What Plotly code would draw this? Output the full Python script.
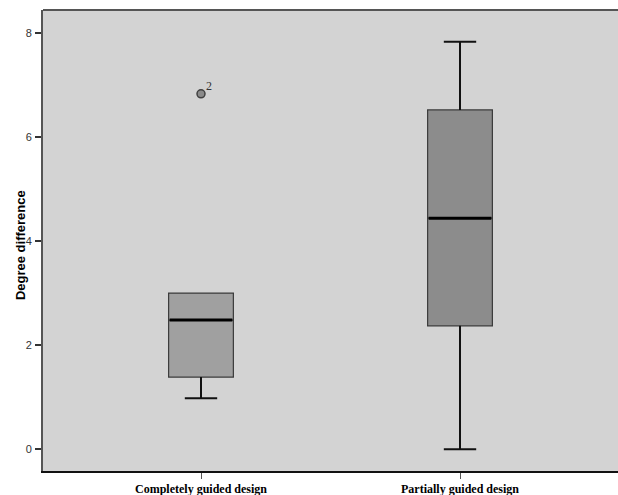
import plotly.graph_objects as go

categories = ["Completely guided design", "Partially guided design"]
q1 = [1.385, 2.37]
median = [2.48, 4.44]
q3 = [3.0, 6.52]
lower_whisker = [0.98, 0.0]
upper_whisker = [3.0, 7.83]
fills = ["#a0a0a0", "#8c8c8c"]
outlier_x = [0]
outlier_y = [6.83]
outlier_labels = ["2"]
y_title = "Degree difference"

box_w = 0.25
cap_w = 0.125
xpos = list(range(len(categories)))

fig = go.Figure()
for i, xc in enumerate(xpos):
    fig.add_trace(go.Box(
        x=[xc], q1=[q1[i]], median=[median[i]], q3=[q3[i]],
        lowerfence=[q1[i]], upperfence=[q3[i]],
        width=box_w, fillcolor=fills[i],
        line=dict(color="#3a3a3a", width=1.2),
        boxpoints=False, hoverinfo="skip", showlegend=False,
    ))
    wx, wy = [], []
    if lower_whisker[i] < q1[i]:
        wx += [xc, xc, None, xc - cap_w / 2, xc + cap_w / 2, None]
        wy += [q1[i], lower_whisker[i], None, lower_whisker[i], lower_whisker[i], None]
    if upper_whisker[i] > q3[i]:
        wx += [xc, xc, None, xc - cap_w / 2, xc + cap_w / 2, None]
        wy += [q3[i], upper_whisker[i], None, upper_whisker[i], upper_whisker[i], None]
    if wx:
        fig.add_trace(go.Scatter(x=wx, y=wy, mode="lines",
                                 line=dict(color="#111111", width=2),
                                 hoverinfo="skip", showlegend=False))
    fig.add_trace(go.Scatter(x=[xc - box_w / 2 + 0.004, xc + box_w / 2 - 0.004],
                             y=[median[i], median[i]], mode="lines",
                             line=dict(color="#000000", width=3),
                             hoverinfo="skip", showlegend=False))

fig.add_trace(go.Scatter(
    x=outlier_x, y=outlier_y, mode="markers",
    marker=dict(size=8, color="#8a8a8a", line=dict(color="#404040", width=1.5)),
    hoverinfo="skip", showlegend=False,
))
for ox, oy, lab in zip(outlier_x, outlier_y, outlier_labels):
    fig.add_annotation(x=ox, y=oy, text=lab, showarrow=False,
                       xshift=8, yshift=8,
                       font=dict(family="Liberation Serif", size=12, color="#333333"))

fig.add_annotation(xref="paper", yref="paper", x=-0.04, y=0.49,
                   xanchor="center", yanchor="middle",
                   text="<b>" + y_title + "</b>", textangle=-90, showarrow=False,
                   font=dict(family="Arial, Liberation Sans", size=13, color="#000000"))

fig.update_layout(
    width=618, height=495,
    margin=dict(l=43, r=0, t=10, b=24),
    paper_bgcolor="white", plot_bgcolor="#d3d3d3",
    xaxis=dict(range=[-0.61, 1.61], tickvals=xpos,
               ticktext=["<b>" + c + "</b>" for c in categories],
               ticks="outside", ticklen=6, tickcolor="#555555", tickwidth=1,
               showline=True, linecolor="#111111", linewidth=2,
               showgrid=False, zeroline=False, automargin=False,
               ticklabelstandoff=0,
               tickfont=dict(family="Liberation Serif", size=12, color="#000000")),
    yaxis=dict(range=[-0.42, 8.44], tickvals=[0, 2, 4, 6, 8],
               ticks="outside", ticklen=6, tickcolor="#333333", tickwidth=1.5,
               showline=True, linecolor="#555555", linewidth=2,
               showgrid=False, zeroline=False, automargin=False,
               ticklabelstandoff=1,
               tickfont=dict(family="Arial, Liberation Sans", size=11, color="#333333")),
    shapes=[dict(type="line", xref="paper", yref="paper", x0=0, x1=1, y0=1, y1=1,
                 line=dict(color="#555555", width=2))],
)

fig.write_html("out.html", config={"displayModeBar": False},
               post_script="document.body.style.margin='0';document.body.style.overflow='hidden';")
